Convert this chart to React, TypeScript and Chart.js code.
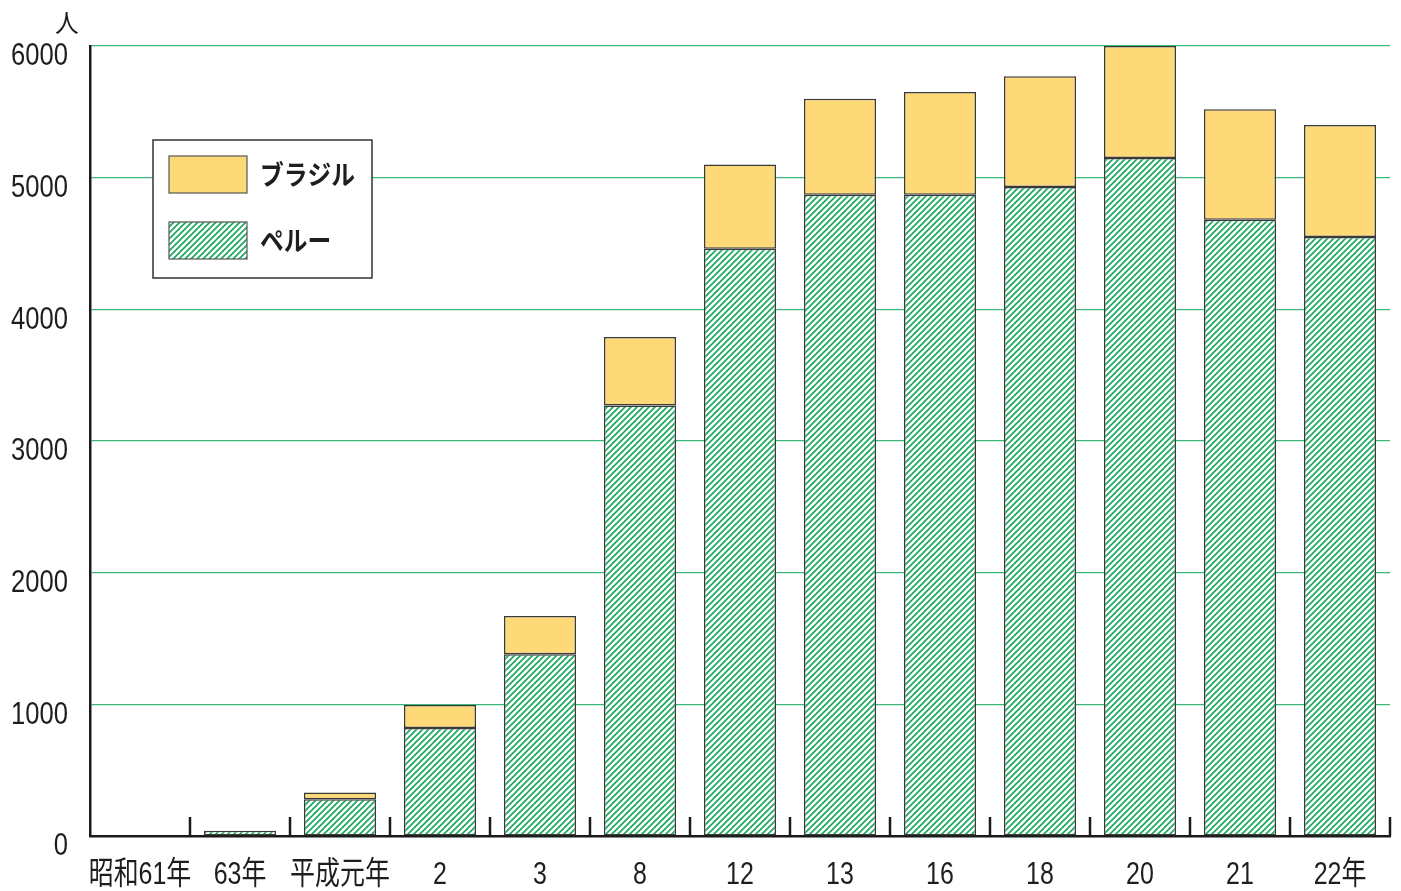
import React, { useEffect, useRef } from "react";
import { Chart, registerables } from "chart.js";

Chart.register(...registerables);

const categories = ["昭和61年", "63年", "平成元年", "2", "3", "8", "12", "13", "16", "18", "20", "21", "22年"];
const peru = [0, 40, 280, 820, 1380, 3270, 4460, 4870, 4870, 4930, 5150, 4680, 4550];
const brazil = [0, 0, 50, 175, 290, 520, 640, 730, 780, 840, 850, 840, 850];
const yTicks = [0, 1000, 2000, 3000, 4000, 5000, 6000];
const unitLabel = "人";

const FONT = '"Liberation Sans", "Noto Sans CJK JP", sans-serif';
const CJK = '"Noto Sans CJK JP", sans-serif';
const YELLOW = "#fdd978";
const GREEN = "#14a85a";
const GRID = "#3cb878";
const EDGE = "#3a3a3a";
const INK = "#1e1e1e";

function makeHatch(): CanvasPattern | string {
  const c = document.createElement("canvas");
  c.width = 6;
  c.height = 6;
  const g = c.getContext("2d");
  if (!g) return GREEN;
  g.fillStyle = "#ffffff";
  g.fillRect(0, 0, 6, 6);
  g.strokeStyle = GREEN;
  g.lineWidth = 1.6;
  g.beginPath();
  g.moveTo(0, 6);
  g.lineTo(6, 0);
  g.moveTo(-1, 1);
  g.lineTo(1, -1);
  g.moveTo(5, 7);
  g.lineTo(7, 5);
  g.stroke();
  const p = g.createPattern(c, "repeat");
  return p || GREEN;
}

// text squeezed horizontally to imitate a condensed face
function narrowText(ctx: CanvasRenderingContext2D, text: string, x: number, y: number, sx: number) {
  ctx.save();
  ctx.translate(x, y);
  ctx.scale(sx, 1);
  ctx.fillText(text, 0, 0);
  ctx.restore();
}

export default function App() {
  const ref = useRef<HTMLCanvasElement | null>(null);

  useEffect(() => {
    if (!ref.current) return;
    const hatch = makeHatch();

    const decorations = {
      id: "decorations",
      afterDatasetsDraw(chart: any) {
        const { ctx, scales } = chart;
        const x = scales.x;
        const y = scales.y;
        const bottom = x.top;
        ctx.save();
        // short category separators rising from the base line
        ctx.strokeStyle = "#1a1a1a";
        ctx.lineWidth = 2.5;
        for (let i = 0; i < categories.length; i++) {
          const px = Math.round(x.getPixelForValue(i + 0.5));
          ctx.beginPath();
          ctx.moveTo(px, bottom - 19);
          ctx.lineTo(px, bottom);
          ctx.stroke();
        }

        // axis labels in a narrow style
        ctx.fillStyle = INK;
        ctx.textBaseline = "middle";
        ctx.font = `32px ${FONT}`;
        ctx.textAlign = "right";
        y.ticks.forEach((t: any, i: number) => {
          narrowText(ctx, String(t.value), 68, y.getPixelForTick(i) + 10.5, 0.8);
        });
        ctx.textAlign = "center";
        x.ticks.forEach((_t: any, i: number) => {
          narrowText(ctx, String(x.getLabelForValue(i)), x.getPixelForTick(i), bottom + 39, 0.78);
        });

        // unit label
        ctx.font = `25px ${CJK}`;
        ctx.textAlign = "center";
        narrowText(ctx, unitLabel, 67, 22, 0.95);

        // legend box
        const bx = 153, by = 140, bw = 219, bh = 138;
        ctx.fillStyle = "#ffffff";
        ctx.fillRect(bx, by, bw, bh);
        ctx.strokeStyle = "#333";
        ctx.lineWidth = 1.5;
        ctx.strokeRect(bx, by, bw, bh);

        const items = [
          { label: "ブラジル", fill: YELLOW, y: 156 },
          { label: "ペルー", fill: hatch, y: 222 },
        ];
        ctx.font = `bold 27px ${CJK}`;
        ctx.textAlign = "left";
        for (const it of items) {
          ctx.fillStyle = it.fill as any;
          ctx.fillRect(169, it.y, 78, 37);
          ctx.strokeStyle = "#555";
          ctx.lineWidth = 1.2;
          ctx.strokeRect(169, it.y, 78, 37);
          ctx.fillStyle = INK;
          narrowText(ctx, it.label, 260, it.y + 19, 0.88);
        }
        ctx.restore();
      },
    };

    const chart = new Chart(ref.current, {
      type: "bar",
      data: {
        labels: categories,
        datasets: [
          {
            label: "ペルー",
            data: peru,
            backgroundColor: hatch as any,
            borderColor: EDGE,
            borderWidth: 1.5,
            borderSkipped: false,
            barPercentage: 0.72,
            categoryPercentage: 1,
          },
          {
            label: "ブラジル",
            data: brazil,
            backgroundColor: YELLOW,
            borderColor: EDGE,
            borderWidth: 1.5,
            borderSkipped: false,
            barPercentage: 0.72,
            categoryPercentage: 1,
          },
        ],
      },
      options: {
        animation: false,
        responsive: true,
        maintainAspectRatio: false,
        layout: { padding: { left: 0, top: 46, right: 11, bottom: 0 } },
        plugins: {
          legend: { display: false },
          tooltip: { enabled: false },
        },
        scales: {
          x: {
            stacked: true,
            offset: true,
            grid: { display: false, drawTicks: false },
            border: { display: true, color: "#1a1a1a", width: 2.5 },
            ticks: { display: false, autoSkip: false },
            afterFit(scale: any) {
              scale.height = 55;
            },
          },
          y: {
            stacked: true,
            min: 0,
            max: 6000,
            afterBuildTicks(scale: any) {
              scale.ticks = yTicks.map((v) => ({ value: v }));
            },
            grid: {
              drawTicks: false,
              lineWidth: 1.2,
              color: GRID,
            },
            border: { display: true, color: "#1a1a1a", width: 2.5 },
            ticks: { display: false },
            afterFit(scale: any) {
              scale.width = 90;
            },
          },
        },
      },
      plugins: [decorations],
    });

    return () => chart.destroy();
  }, []);

  return (
    <div style={{ position: "absolute", left: 0, top: 0, width: 1401, height: 891, background: "#fff" }}>
      <canvas ref={ref} style={{ display: "block" }} />
    </div>
  );
}
